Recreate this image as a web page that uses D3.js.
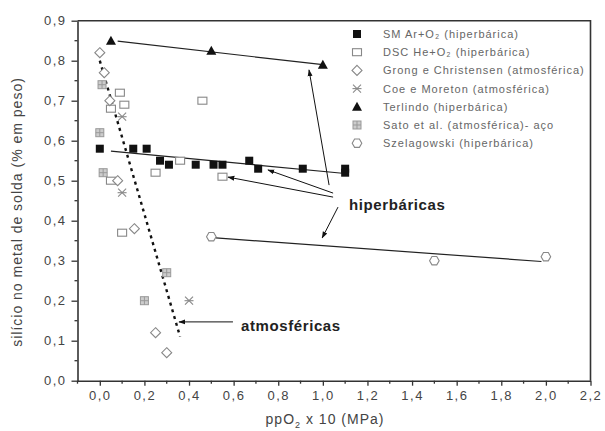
<!DOCTYPE html>
<html><head><meta charset="utf-8">
<script src="https://cdn.jsdelivr.net/npm/d3@7"></script>
<style>body{margin:0;background:#fff}svg{display:block}text{font-family:"Liberation Sans",Arial,sans-serif}</style>
</head><body><svg id="c" width="605" height="431"></svg>
<script>
// ---- data ----
const xTicks = [0,0.2,0.4,0.6,0.8,1.0,1.2,1.4,1.6,1.8,2.0,2.2];
const yTicks = [0,0.1,0.2,0.3,0.4,0.5,0.6,0.7,0.8,0.9];
const smX = [0.00,0.15,0.21,0.27,0.31,0.43,0.51,0.55,0.67,0.71,0.91,1.10,1.10];
const smY = [0.58,0.58,0.58,0.55,0.54,0.54,0.54,0.54,0.55,0.53,0.53,0.53,0.52];
const dscX = [0.09,0.11,0.05,0.46,0.25,0.55,0.05,0.10,0.36];
const dscY = [0.72,0.69,0.68,0.70,0.52,0.51,0.50,0.37,0.55];
const grongX = [0.00,0.02,0.045,0.08,0.155,0.25,0.30];
const grongY = [0.82,0.77,0.70,0.50,0.38,0.12,0.07];
const coeX = [0.10,0.10,0.40];
const coeY = [0.66,0.47,0.20];
const terX = [0.05,0.50,1.00];
const terY = [0.85,0.825,0.79];
const satoX = [0.00,0.01,0.015,0.20,0.30];
const satoY = [0.62,0.74,0.52,0.20,0.27];
const szelX = [0.50,1.50,2.00];
const szelY = [0.36,0.30,0.31];
// fit lines [x1,y1,x2,y2]
const smFit = [0.05,0.574,1.10,0.518];
const terFit = [0.08,0.849,1.00,0.790];
const szelFit = [0.52,0.357,1.98,0.298];
const atmFit = [0.00,0.80,0.36,0.11];
// annotation pointers [x1,y1,x2,y2] (arrowhead at end)
const hiperPointers = [[1.028,0.489,0.938,0.777],[1.046,0.469,0.754,0.527],[1.046,0.459,0.575,0.509],[1.068,0.434,0.997,0.357]];
const atmPointer = [0.597,0.147,0.355,0.147];
const legendNames = ["SM Ar+O\u2082 (hiperbárica)","DSC He+O\u2082 (hiperbárica)","Grong e Christensen (atmosférica)","Coe e Moreton (atmosférica)","Terlindo (hiperbárica)","Sato et al. (atmosférica)- aço","Szelagowski (hiperbárica)"];
const legendKeys = ["sm","dsc","grong","coe","ter","sato","szel"];

// ---- chart ----
const svg = d3.select("#c");
const x = d3.scaleLinear().domain([-0.1,2.2]).range([77.5,590.5]);
const y = d3.scaleLinear().domain([0,0.9]).range([380.7,20.7]);
const fmt = v => d3.format(".1f")(v).replace(".",",");
const axisCol = "#333";

// markers
const defs = svg.append("defs");
defs.append("marker").attr("id","ah").attr("viewBox","0 0 10 10").attr("refX",9).attr("refY",5)
  .attr("markerWidth",7).attr("markerHeight",7).attr("orient","auto-start-reverse")
  .append("path").attr("d","M0,1.5L10,5L0,8.5Z").attr("fill","#111");

// symbols
function drawSym(g, key, cx, cy){
  switch(key){
    case "sm": g.append("rect").attr("x",cx-4).attr("y",cy-4).attr("width",8).attr("height",8).attr("fill","#111"); break;
    case "dsc": g.append("rect").attr("x",cx-4.5).attr("y",cy-3.5).attr("width",9).attr("height",7).attr("fill","#fff").attr("stroke","#888").attr("stroke-width",1.1); break;
    case "grong": g.append("path").attr("d",`M${cx},${cy-5}L${cx+5},${cy}L${cx},${cy+5}L${cx-5},${cy}Z`).attr("fill","#fff").attr("stroke","#888").attr("stroke-width",1.1); break;
    case "coe": {
      const p = g.append("g").attr("stroke","#888").attr("stroke-width",1.1);
      p.append("line").attr("x1",cx-4).attr("y1",cy-4).attr("x2",cx+4).attr("y2",cy+4);
      p.append("line").attr("x1",cx-4).attr("y1",cy+4).attr("x2",cx+4).attr("y2",cy-4);
      p.append("line").attr("x1",cx-4.5).attr("y1",cy).attr("x2",cx+4.5).attr("y2",cy);
      break;}
    case "ter": g.append("path").attr("d",`M${cx},${cy-5}L${cx+5},${cy+4}L${cx-5},${cy+4}Z`).attr("fill","#111"); break;
    case "sato": {
      g.append("rect").attr("x",cx-4).attr("y",cy-4).attr("width",8).attr("height",8).attr("fill","#ccc").attr("stroke","#999");
      g.append("path").attr("d",`M${cx-4},${cy}H${cx+4}M${cx},${cy-4}V${cy+4}`).attr("stroke","#999");
      break;}
    case "szel": {
      const r=4.8, pts=d3.range(6).map(i=>[cx+r*Math.cos(Math.PI/3*i), cy+r*Math.sin(Math.PI/3*i)]);
      g.append("path").attr("d","M"+pts.join("L")+"Z").attr("fill","#fff").attr("stroke","#888").attr("stroke-width",1.1); break;}
  }
}

// fit lines
const lineG = svg.append("g").attr("fill","none");
[smFit,terFit,szelFit].forEach(f=>{
  lineG.append("line").attr("x1",x(f[0])).attr("y1",y(f[1])).attr("x2",x(f[2])).attr("y2",y(f[3]))
    .attr("stroke","#222").attr("stroke-width",1.2);
});
lineG.append("line").attr("x1",x(atmFit[0])).attr("y1",y(atmFit[1])).attr("x2",x(atmFit[2])).attr("y2",y(atmFit[3]))
  .attr("stroke","#111").attr("stroke-width",2.4).attr("stroke-dasharray","3,4");

// points
const ptG = svg.append("g");
const series = [["sato",satoX,satoY],["dsc",dscX,dscY],["grong",grongX,grongY],["coe",coeX,coeY],["szel",szelX,szelY],["sm",smX,smY],["ter",terX,terY]];
series.forEach(([k,xs,ys])=>xs.forEach((v,i)=>drawSym(ptG,k,x(v),y(ys[i]))));

// annotation pointers
const annG = svg.append("g");
hiperPointers.concat([atmPointer]).forEach(p=>{
  annG.append("line").attr("x1",x(p[0])).attr("y1",y(p[1])).attr("x2",x(p[2])).attr("y2",y(p[3]))
    .attr("stroke","#111").attr("stroke-width",1).attr("marker-end","url(#ah)");
});
annG.append("text").attr("x",349).attr("y",210).attr("font-size",15).attr("font-weight","bold")
  .attr("letter-spacing",0.6).attr("fill","#222").text("hiperbáricas");
annG.append("text").attr("x",241).attr("y",331).attr("font-size",15).attr("font-weight","bold")
  .attr("letter-spacing",0.6).attr("fill","#222").text("atmosféricas");

// axes
const xAx = svg.append("g").attr("transform",`translate(0,${y(0)})`)
  .call(d3.axisBottom(x).tickValues(xTicks).tickSize(5).tickSizeOuter(0).tickFormat(fmt));
xAx.select(".domain").attr("stroke",axisCol).attr("stroke-width",1.6);
xAx.selectAll(".tick line").attr("stroke",axisCol).attr("stroke-width",1.3);
xAx.selectAll(".tick text").attr("font-size",13).attr("letter-spacing",1.5).attr("fill","#444").attr("dy","0.85em").attr("font-family","Liberation Sans, Arial, sans-serif");
const xMinor = d3.range(-0.1,2.25,0.2).map(v=>+v.toFixed(2));
svg.append("g").selectAll("line").data(xMinor).join("line")
  .attr("x1",d=>x(d)).attr("x2",d=>x(d)).attr("y1",y(0)).attr("y2",y(0)+3).attr("stroke",axisCol).attr("stroke-width",1.3);

const yAx = svg.append("g").attr("transform",`translate(${x(-0.1)},0)`)
  .call(d3.axisLeft(y).tickValues(yTicks).tickSize(6).tickSizeOuter(0).tickPadding(5).tickFormat(fmt));
yAx.select(".domain").attr("stroke",axisCol).attr("stroke-width",1.6);
yAx.selectAll(".tick line").attr("stroke",axisCol).attr("stroke-width",1.3);
yAx.selectAll(".tick text").attr("font-size",13).attr("letter-spacing",1.5).attr("fill","#444").attr("font-family","Liberation Sans, Arial, sans-serif");
const yMinor = d3.range(0.05,0.9,0.1).map(v=>+v.toFixed(2));
svg.append("g").selectAll("line").data(yMinor).join("line")
  .attr("y1",d=>y(d)).attr("y2",d=>y(d)).attr("x1",x(-0.1)-3).attr("x2",x(-0.1)).attr("stroke",axisCol).attr("stroke-width",1.3);

// frame top/right
svg.append("path").attr("d",`M${x(-0.1)},${y(0.9)}H${x(2.2)}V${y(0)}`).attr("fill","none").attr("stroke",axisCol).attr("stroke-width",1.6);

// axis titles
const xt = svg.append("text").attr("x",325).attr("y",424).attr("text-anchor","middle").attr("font-size",14).attr("letter-spacing",1).attr("fill","#444");
xt.append("tspan").text("ppO");
xt.append("tspan").attr("font-size",9).attr("dy",4).text("2");
xt.append("tspan").attr("dy",-4).text(" x 10  (MPa)");
svg.append("text").attr("transform",`translate(22,${212}) rotate(-90)`).attr("text-anchor","middle")
  .attr("font-size",14).attr("letter-spacing",1).attr("fill","#444").text("silício no metal de solda (% em peso)");

// legend
const lg = svg.append("g");
legendKeys.forEach((k,i)=>{
  const cy = 34 + i*18.2;
  drawSym(lg,k,357,cy);
  lg.append("text").attr("x",383).attr("y",cy+4).attr("font-size",11).attr("letter-spacing",1).attr("fill","#666").text(legendNames[i]);
});
</script></body></html>
